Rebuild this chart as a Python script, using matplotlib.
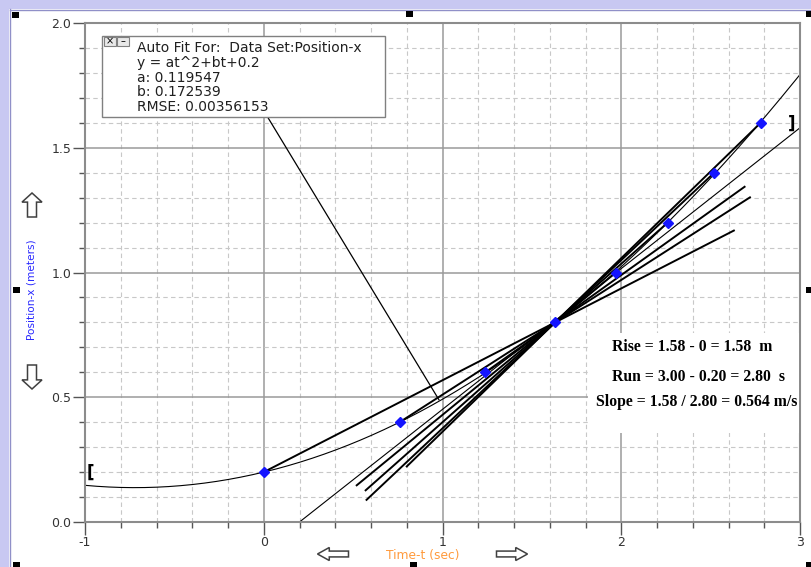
import numpy as np
import matplotlib.pyplot as plt
from matplotlib.patches import Rectangle, Polygon
from matplotlib.ticker import MultipleLocator, FormatStrFormatter

plt.rcParams['axes.unicode_minus'] = False
plt.rcParams['font.family'] = ['DejaVu Sans']

W, H = 811, 567

# data
time_s = [0.0, 0.76, 1.24, 1.63, 1.97, 2.26, 2.52, 2.78]
position_m = [0.2, 0.4, 0.6, 0.8, 1.0, 1.2, 1.4, 1.6]
pivot = 3  # secants all pass through this point
secant_end_t = [2.63, 2.72, 2.69, None, 0.52, 0.57, 0.575, 0.80]

# auto fit y = at^2 + bt + 0.2
fit_a = 0.119547
fit_b = 0.172539
fit_c = 0.2
fit_rmse = 0.00356153

tangent_t = [0.20, 3.00]
tangent_x = [0.0, 1.58]
leader_t = [0.02, 0.98]
leader_x = [1.625, 0.49]

fig = plt.figure(figsize=(W / 100, H / 100), dpi=100)


def fp(x, y):
    # pixel position (from top left) -> figure fraction
    return (x / W, 1 - y / H)


def box(x0, y0, x1, y1, **kw):
    r = Rectangle(fp(x0, y1), (x1 - x0) / W, (y1 - y0) / H,
                  transform=fig.transFigure, **kw)
    fig.add_artist(r)
    return r


ax = fig.add_axes([85 / W, 1 - 522 / H, 715 / W, 499 / H])
ax.set_xlim(-1, 3)
ax.set_ylim(0, 2)
ax.xaxis.set_major_locator(MultipleLocator(1))
ax.xaxis.set_minor_locator(MultipleLocator(0.2))
ax.yaxis.set_major_locator(MultipleLocator(0.5))
ax.yaxis.set_minor_locator(MultipleLocator(0.1))
ax.yaxis.set_major_formatter(FormatStrFormatter('%.1f'))
ax.xaxis.set_major_formatter(FormatStrFormatter('%d'))
ax.set_axisbelow(True)
ax.grid(which='major', color='#9a9a9a', lw=1.1, ls='-')
ax.grid(which='minor', color='#c8c8c8', lw=0.8, ls=(0, (4, 3)))
ax.tick_params(which='major', length=9, width=1, color='#555555',
               labelsize=9, labelcolor='#333333', pad=1)
ax.tick_params(which='minor', length=4, width=1, color='#555555')
for s in ax.spines.values():
    s.set_color('#8c8c8c')
    s.set_linewidth(1.5)

# fit curve
t = np.linspace(-1, 3, 300)
ax.plot(t, fit_a * t ** 2 + fit_b * t + fit_c, color='black', lw=0.8)

# tangent at pivot
ax.plot(tangent_t, tangent_x, color='black', lw=0.8)

# secant lines through the pivot
for i, end in enumerate(secant_end_t):
    if i == pivot:
        continue
    slope = (position_m[i] - position_m[pivot]) / (time_s[i] - time_s[pivot])
    y_end = position_m[pivot] + slope * (end - time_s[pivot])
    ax.plot([time_s[i], end], [position_m[i], y_end], color='black', lw=1.4)

# leader from fit box
ax.plot(leader_t, leader_x, color='black', lw=0.9)

ax.plot(time_s, position_m, 'D', color='#1414ff', ms=5, ls='none', zorder=5)

# fit box
box(102, 36, 385, 117, fc='white', ec='#808080', lw=1, zorder=3)
box(104, 37, 116, 46, fc='#e8e8e8', ec='#808080', lw=0.8, zorder=4)
box(117, 37, 129, 46, fc='#e8e8e8', ec='#808080', lw=0.8, zorder=4)
fig.text(*fp(110, 41.5), '×', fontsize=7, ha='center', va='center', zorder=5)
fig.text(*fp(123, 41), '–', fontsize=7, ha='center', va='center', zorder=5)
fit_lines = ['Auto Fit For:  Data Set:Position-x',
             'y = at^2+bt+0.2',
             f'a: {fit_a}',
             f'b: {fit_b}',
             f'RMSE: {fit_rmse}']
for k, line in enumerate(fit_lines):
    fig.text(*fp(137, 48 + 14.8 * k), line, fontsize=10, color='#202020',
             va='center', zorder=5)

# rise / run box
box(588, 333, 799, 433, fc='white', ec='none', zorder=3)
serif = dict(family='Liberation Serif', fontweight='bold', fontsize=11.3,
             va='center', zorder=5)
fig.text(*fp(612, 347), 'Rise = 1.58 - 0 = 1.58  m', **serif)
fig.text(*fp(612, 377), 'Run = 3.00 - 0.20 = 2.80  s', **serif)
fig.text(*fp(596, 402), 'Slope = 1.58 / 2.80 = 0.564 m/s', **serif)

# brackets
fig.text(*fp(90, 473), '[', fontsize=12, fontweight='bold', ha='center',
         va='center')
fig.text(*fp(792, 124), ']', fontsize=12, fontweight='bold', ha='center',
         va='center')

# axis labels
fig.text(*fp(31, 290), 'Position-x (meters)', color='#2a2aff', fontsize=7.6,
         rotation=90, ha='center', va='center')
fig.text(*fp(423, 556), 'Time-t (sec)', color='#ff9a3c', fontsize=8.8,
         ha='center', va='center')


def hollow_arrow(cx, cy, length, width, direction):
    hl = length * 0.38
    sw = width * 0.45
    pts = np.array([[-length / 2, 0], [-length / 2 + hl, -width / 2],
                    [-length / 2 + hl, -sw / 2], [length / 2, -sw / 2],
                    [length / 2, sw / 2], [-length / 2 + hl, sw / 2],
                    [-length / 2 + hl, width / 2]])
    ang = {'left': 0, 'down': 90, 'right': 180, 'up': 270}[direction]
    th = np.deg2rad(ang)
    rot = np.array([[np.cos(th), -np.sin(th)], [np.sin(th), np.cos(th)]])
    pts = pts @ rot.T
    xy = [fp(cx + p[0], cy - p[1]) for p in pts]
    fig.add_artist(Polygon(xy, closed=True, transform=fig.transFigure,
                           fc='white', ec='#404040', lw=1.1, zorder=4))


hollow_arrow(333, 554, 31, 13, 'left')
hollow_arrow(512, 554, 31, 13, 'right')
hollow_arrow(32, 205, 24, 20, 'up')
hollow_arrow(32, 377, 24, 20, 'down')

# window frame
box(0, 0, W, 9, fc='#c8c8f2', ec='none', zorder=1)
box(0, 0, 9, H, fc='#c8c8f2', ec='none', zorder=1)
fig.add_artist(plt.Line2D([9.5 / W, 9.5 / W], [0, 1 - 9 / H],
                          transform=fig.transFigure, color='#9090c8', lw=1))
fig.add_artist(plt.Line2D([9.5 / W, 1], [1 - 9.5 / H, 1 - 9.5 / H],
                          transform=fig.transFigure, color='#9090c8', lw=1))

# selection handles
for hx, hy in [(12, 12), (406, 11), (806, 11), (13, 287), (806, 287),
               (13, 562), (410, 562), (806, 562)]:
    box(hx, hy, hx + 7, hy + 6, fc='black', ec='none', zorder=6)

fig.savefig('out.png', dpi=100)
